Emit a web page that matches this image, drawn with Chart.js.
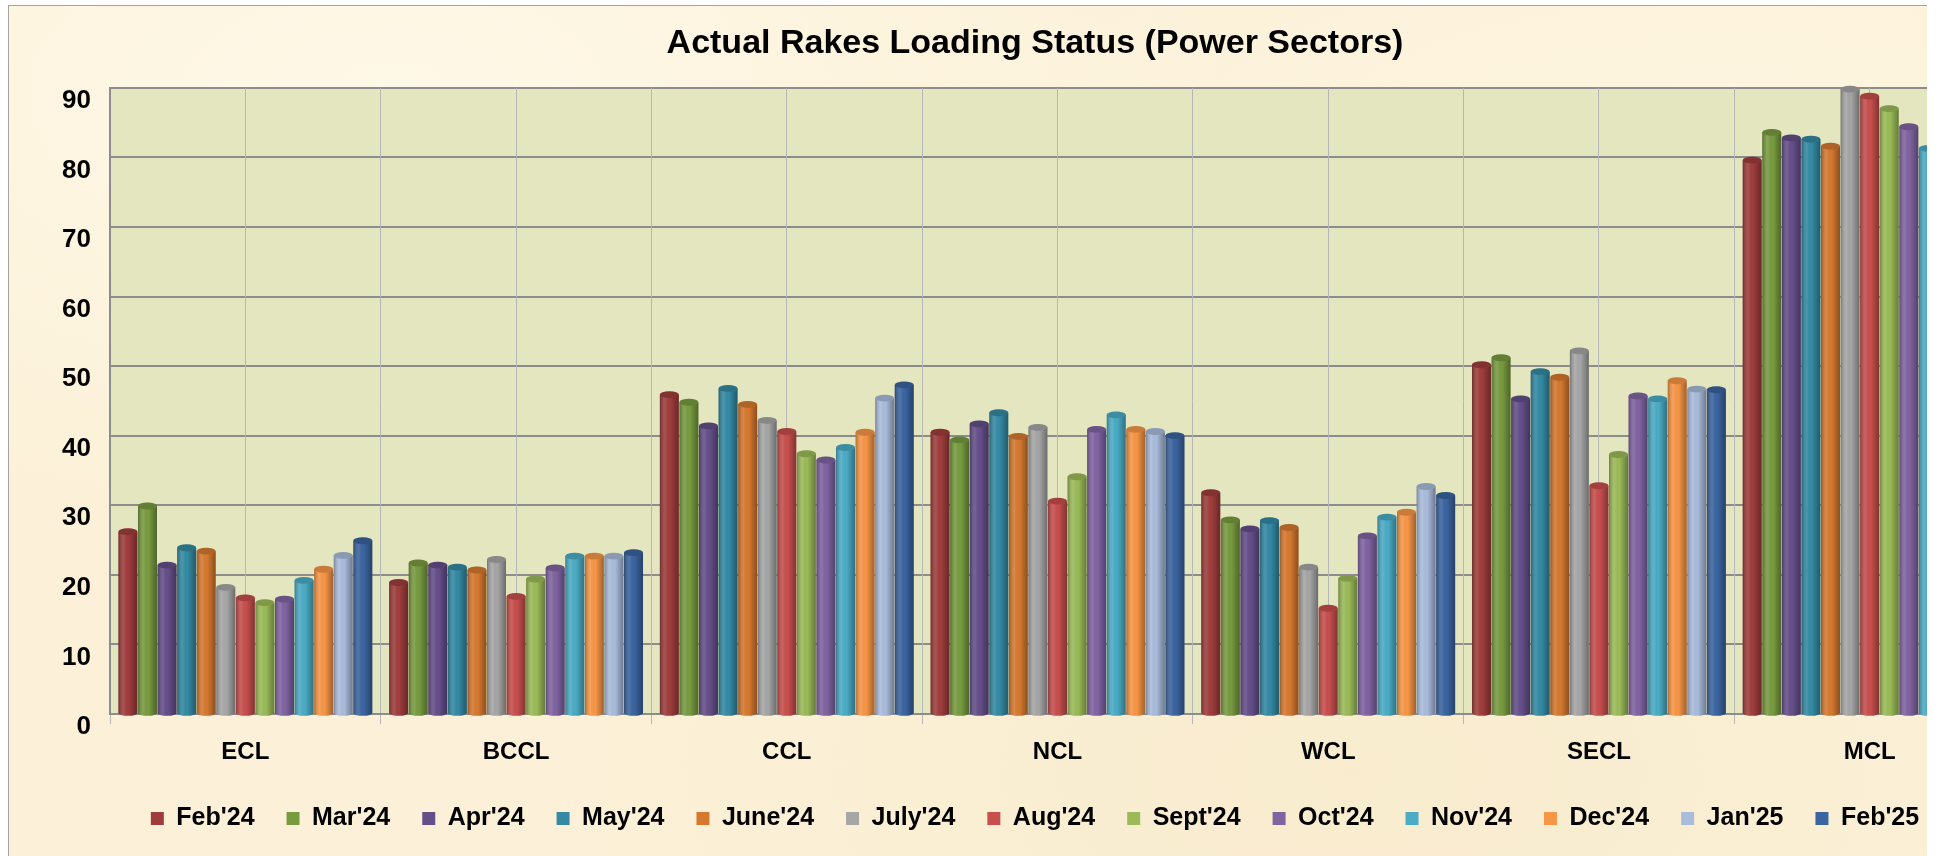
<!DOCTYPE html>
<html>
<head>
<meta charset="utf-8">
<title>Actual Rakes Loading Status (Power Sectors)</title>
<script src="https://cdn.jsdelivr.net/npm/chart.js@4.4.1/dist/chart.umd.min.js"></script>
<style>
  html, body { margin: 0; padding: 0; background: #fff; }
  #frame {
    position: absolute;
    left: 8px;
    top: 5px;
    width: 1918px;
    height: 851px;
    border-left: 1px solid #a3a3a3;
    border-top: 1px solid #a3a3a3;
    overflow: hidden;
    background-color: #fcf1d8;
    background-image:
      radial-gradient(ellipse at 20% 10%, rgba(255,250,235,0.8), rgba(255,250,235,0) 40%),
      radial-gradient(ellipse at 70% 90%, rgba(246,232,200,0.6), rgba(246,232,200,0) 45%),
      radial-gradient(ellipse at 90% 20%, rgba(255,248,230,0.7), rgba(255,248,230,0) 35%);
  }
  #rakes { position: absolute; left: 0; top: 0; }
</style>
</head>
<body>
<div id="frame">
  <canvas id="rakes" width="2054" height="850"></canvas>
</div>
<script>
const sectors = ['ECL', 'BCCL', 'CCL', 'NCL', 'WCL', 'SECL', 'MCL'];
const months = ["Feb'24", "Mar'24", "Apr'24", "May'24", "June'24", "July'24", "Aug'24",
  "Sept'24", "Oct'24", "Nov'24", "Dec'24", "Jan'25", "Feb'25"];
const colors = ['#9f3d3c', '#789b40', '#654f8a', '#348aa4', '#d6792f', '#a6a6a6', '#c74f4d',
  '#9bbb59', '#8064a2', '#4bacc6', '#f79646', '#aabcdc', '#3b65a0'];

// rakes per day, in sector order (ECL .. MCL)
const feb24 = [26.2, 18.9, 45.9, 40.5, 31.8, 50.2, 79.6];
const mar24 = [29.9, 21.7, 44.8, 39.4, 27.9, 51.2, 83.6];
const apr24 = [21.4, 21.4, 41.4, 41.7, 26.6, 45.3, 82.8];
const may24 = [23.9, 21.1, 46.8, 43.3, 27.8, 49.2, 82.6];
const jun24 = [23.4, 20.7, 44.5, 39.9, 26.8, 48.4, 81.6];
const jul24 = [18.2, 22.2, 42.2, 41.2, 21.1, 52.2, 89.8];
const aug24 = [16.7, 16.9, 40.6, 30.6, 15.2, 32.8, 88.8];
const sep24 = [16.0, 19.4, 37.4, 34.1, 19.5, 37.3, 87.0];
const oct24 = [16.5, 21.0, 36.5, 40.9, 25.6, 45.7, 84.4];
const nov24 = [19.2, 22.7, 38.3, 43.0, 28.3, 45.3, 81.3];
const dec24 = [20.8, 22.7, 40.5, 40.9, 29.0, 47.9, 84.5];
const jan25 = [22.8, 22.7, 45.4, 40.6, 32.7, 46.7, 85.0];
const feb25 = [24.9, 23.2, 47.3, 40.0, 31.4, 46.6, 86.0];

const series = [feb24, mar24, apr24, may24, jun24, jul24, aug24, sep24, oct24, nov24, dec24, jan25, feb25];
const yMin = 0;
const yMax = 90;
const yStep = 10;

Chart.defaults.font.family = "'Liberation Sans', Arial, sans-serif";
Chart.defaults.color = '#000';

// green back wall behind the bars
const plotWall = {
  id: 'plotWall',
  beforeDraw(chart) {
    const { ctx, chartArea } = chart;
    ctx.save();
    ctx.fillStyle = '#e4e6bf';
    ctx.fillRect(chartArea.left, chartArea.top, chartArea.width, chartArea.height);
    ctx.restore();
  }
};

// shading + caps so the flat bars look like the cylinders of the original
const cylinderLook = {
  id: 'cylinderLook',
  afterDatasetsDraw(chart) {
    const ctx = chart.ctx;
    chart.data.datasets.forEach((ds, i) => {
      chart.getDatasetMeta(i).data.forEach(bar => {
        const { x, y, base, width } = bar.getProps(['x', 'y', 'base', 'width'], true);
        const left = x - width / 2;
        const shade = ctx.createLinearGradient(left, 0, left + width, 0);
        shade.addColorStop(0, 'rgba(0,0,0,0.30)');
        shade.addColorStop(0.3, 'rgba(255,255,255,0.10)');
        shade.addColorStop(0.55, 'rgba(0,0,0,0)');
        shade.addColorStop(1, 'rgba(0,0,0,0.35)');
        ctx.save();
        ctx.fillStyle = shade;
        ctx.fillRect(left, y, width, base - y);
        ctx.beginPath();
        ctx.ellipse(x, base, width / 2, width * 0.15, 0, 0, Math.PI);
        ctx.fillStyle = ds.backgroundColor;
        ctx.fill();
        ctx.fillStyle = shade;
        ctx.fill();
        ctx.beginPath();
        ctx.ellipse(x, y, width / 2, width * 0.18, 0, 0, Math.PI * 2);
        ctx.fillStyle = ds.backgroundColor;
        ctx.fill();
        ctx.fillStyle = 'rgba(0,0,0,0.18)';
        ctx.fill();
        ctx.restore();
      });
    });
  }
};

new Chart(document.getElementById('rakes'), {
  type: 'bar',
  data: {
    labels: sectors,
    datasets: months.map((m, i) => ({
      label: m,
      data: series[i],
      backgroundColor: colors[i],
      borderWidth: 0,
      categoryPercentage: 0.94,
      barPercentage: 0.97
    }))
  },
  options: {
    responsive: false,
    animation: false,
    layout: { padding: { left: 8, right: 10, top: 0, bottom: 15 } },
    plugins: {
      title: {
        display: true,
        text: 'Actual Rakes Loading Status (Power Sectors)',
        color: '#000',
        font: { size: 34, weight: 'bold' },
        padding: { top: 17, bottom: 24 }
      },
      legend: {
        position: 'bottom',
        labels: {
          boxWidth: 13,
          boxHeight: 13,
          padding: 32,
          color: '#000',
          font: { size: 25, weight: 'bold' }
        }
      },
      tooltip: { enabled: false }
    },
    scales: {
      y: {
        min: yMin,
        max: yMax,
        ticks: {
          stepSize: yStep,
          padding: 19,
          labelOffset: 13,
          color: '#000',
          font: { size: 26, weight: 'bold' }
        },
        grid: { color: '#8c8c8c', lineWidth: 2, drawTicks: false },
        border: { display: true, color: '#8c8c8c', width: 2 },
        afterFit: scale => { scale.width = 93; }
      },
      // empty spacer on the right so the plot runs past the frame like the original
      yPad: {
        type: 'linear',
        position: 'right',
        ticks: { display: false },
        grid: { display: false },
        border: { display: false },
        afterFit: scale => { scale.width = 48; }
      },
      x: {
        ticks: {
          padding: 14,
          color: '#000',
          font: { size: 24, weight: 'bold' }
        },
        grid: { color: '#b6b6b6', lineWidth: 1, tickLength: 10 },
        border: { display: true, color: '#8c8c8c', width: 2 },
        afterFit: scale => { scale.height = 60; }
      },
      x2: {
        type: 'category',
        position: 'bottom',
        offset: true,
        ticks: { display: false },
        grid: { offset: false, color: '#b6b6b6', lineWidth: 1, drawTicks: false },
        border: { display: false },
        afterFit: scale => { scale.height = 0; }
      }
    }
  },
  plugins: [plotWall, cylinderLook]
});
</script>
</body>
</html>
